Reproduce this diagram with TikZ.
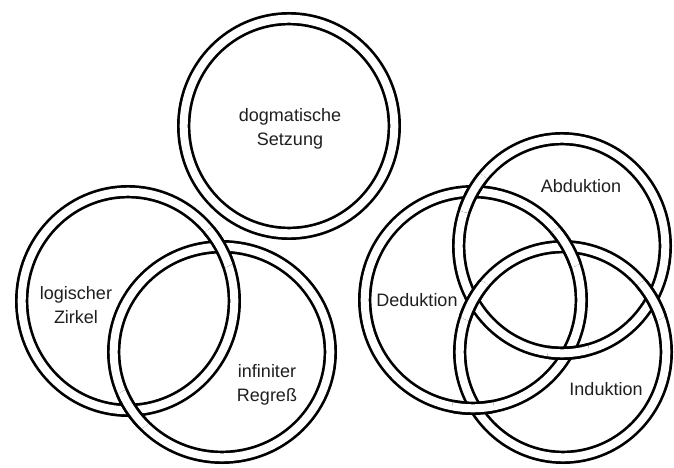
\documentclass[tikz,border=0pt]{standalone}
\usepackage{fontspec}
\setmainfont{Liberation Sans}
\tikzset{
  bandout/.style={draw=black, line width=13.4pt},
  bandin/.style={draw=white, line width=8pt},
  lbl/.style={font=\fontsize{18}{23.5}\selectfont, align=center, text=black!88, inner sep=0pt},
}
% ring: centre x, centre y, outer x radius, outer y radius
\newcommand{\ringband}[4]{%
  \draw[bandout] (#1,#2) ellipse [x radius=#3pt-6.7pt, y radius=#4pt-6.7pt];
  \draw[bandin]  (#1,#2) ellipse [x radius=#3pt-6.7pt, y radius=#4pt-6.7pt];
}
% redraw a ring on top near a crossing point
\newcommand{\ringover}[6]{%
  \begin{scope}
    \clip (#5,#6) circle [radius=21pt];
    \ringband{#1}{#2}{#3}{#4}
  \end{scope}
}
\begin{document}
\begin{tikzpicture}[x=1pt, y=-1pt]
  \fill[white] (0,0) rectangle (674,468);
  \path[use as bounding box] (0,0) rectangle (674,468);

  % dogmatische Setzung
  \ringband{289}{126}{112}{114}
  % left pair
  \ringband{128}{301}{113}{116} % logischer Zirkel
  \ringband{222}{352}{115}{112} % infiniter Regress
  \ringover{128}{301}{113}{116}{220}{247}
  \ringover{222}{352}{115}{112}{132}{410}

  % right Borromean triple
  \ringband{473}{300}{115}{115} % Deduktion
  \ringband{562}{246}{110}{114} % Abduktion
  \ringband{563}{352}{110}{112} % Induktion
  % Abduktion over Deduktion
  \ringover{562}{246}{110}{114}{470}{192}
  \ringover{562}{246}{110}{114}{568}{351}
  % Deduktion over Induktion
  \ringover{473}{300}{115}{115}{567}{247}
  \ringover{473}{300}{115}{115}{473}{408}
  % Induktion over Abduktion
  \ringover{563}{352}{110}{112}{473}{300}
  \ringover{563}{352}{110}{112}{652}{300}

  \node[lbl] (dog) at (290,129) {dogmatische\\Setzung};
  \node[lbl] (log) at (76,305) {logischer\\Zirkel};
  \node[lbl] (inf) at (267,385) {infiniter\\Regreß};
  \node[lbl] (ded) at (417,300) {Deduktion};
  \node[lbl] (abd) at (581,186) {Abduktion};
  \node[lbl] (ind) at (606,389) {Induktion};
\end{tikzpicture}
\end{document}
